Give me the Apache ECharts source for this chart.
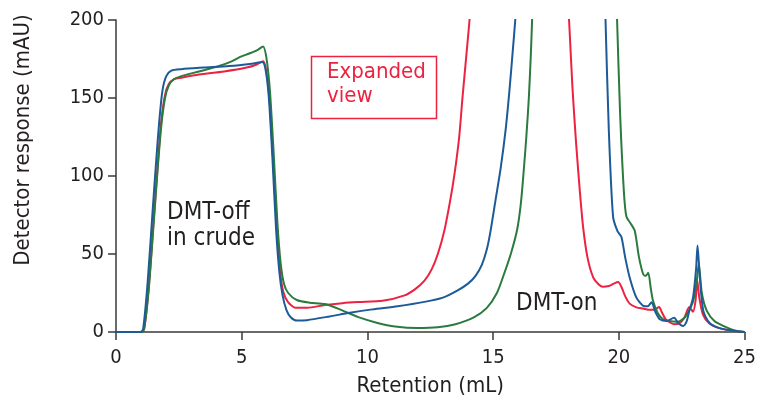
<!DOCTYPE html>
<html>
<head>
<meta charset="utf-8">
<script src="https://cdn.jsdelivr.net/npm/echarts@6/dist/echarts.min.js"></script>
<style>
html,body{margin:0;padding:0;background:#fff;}
#chart{width:759px;height:410px;}
</style>
</head>
<body>
<div id="chart"></div>
<script>
// ---- data (retention mL, response mAU) ----
const xTicks = [0, 5, 10, 15, 20, 25];
const yTicks = [0, 50, 100, 150, 200];

const runRed = [
[0,0],[1.0,0],[1.12,2],[1.3,28],[1.5,72],[1.65,105],[1.8,135],[1.95,152],[2.1,159],[2.3,162],[2.6,163],[3.3,165],[4.3,167],[5.2,169.5],[5.6,171.5],[5.85,173.5],[5.97,168],[6.1,150],[6.25,110],[6.4,68],[6.52,40],[6.65,26],[6.85,19],[7.15,15.5],[7.6,15.5],[8.3,17.3],[9.0,18.5],[9.64,19.2],[10.6,20],[11.48,23.5],[11.9,27.5],[12.27,33],[12.55,40],[12.8,50],[13.06,65],[13.3,85],[13.47,102],[13.65,125],[13.78,150],[13.95,180],[14.06,200],[14.2,235],[14.4,300],[17.7,300],[17.9,230],[18.02,200],[18.15,158],[18.3,121],[18.45,90],[18.58,67],[18.75,48],[18.98,35],[19.2,30.5],[19.37,29],[19.6,29.5],[19.8,31],[19.97,32],[20.1,29],[20.25,23],[20.43,18.2],[20.7,15.8],[20.96,15],[21.25,14.2],[21.45,14.5],[21.6,16],[21.7,13],[21.85,8.5],[22.0,6.4],[22.2,5],[22.4,5.5],[22.6,9],[22.8,16],[22.95,13],[23.05,20],[23.12,33],[23.2,22],[23.35,11],[23.6,5.5],[24.0,2.5],[24.5,0.8],[25,0]
];
const runBlue = [
[0,0],[0.98,0],[1.08,2],[1.25,30],[1.45,76],[1.6,110],[1.72,135],[1.85,155],[2.0,164],[2.2,167.5],[2.6,168.5],[3.5,169.5],[4.5,170.5],[5.4,172],[5.82,173],[5.95,168],[6.08,150],[6.22,112],[6.37,65],[6.5,38],[6.62,24],[6.78,14],[6.95,9.5],[7.2,7.3],[7.6,7.6],[8.5,10],[9.3,12.3],[10.2,14.5],[11.2,16.5],[12.27,19.3],[13.0,22],[13.59,26.7],[14.0,31],[14.3,36],[14.55,43],[14.75,53],[14.9,65],[15.1,85],[15.3,105],[15.5,130],[15.65,155],[15.78,180],[15.88,200],[16.0,230],[16.2,300],[19.3,300],[19.4,240],[19.47,200],[19.6,130],[19.77,74],[19.95,64.5],[20.1,61],[20.25,48],[20.43,35],[20.7,22],[20.97,16.8],[21.15,16.5],[21.3,19],[21.45,13],[21.63,8.2],[21.9,7],[22.2,9.2],[22.35,6],[22.56,3.9],[22.7,7],[22.8,13.5],[22.95,22],[23.07,40],[23.13,55.5],[23.22,35],[23.36,13.5],[23.6,6],[24.0,2.5],[24.7,0.5],[25,0]
];
const runGreen = [
[0,0],[1.02,0],[1.12,2],[1.3,27],[1.5,70],[1.65,103],[1.8,132],[1.95,150],[2.1,158],[2.3,162],[2.6,164],[3.3,167],[4.1,170.5],[4.6,173.5],[4.9,176],[5.3,178.5],[5.6,180.5],[5.85,183],[5.98,176],[6.12,155],[6.27,115],[6.42,70],[6.55,44],[6.68,31],[6.85,25],[7.19,20.5],[7.7,18.8],[8.3,17.9],[8.9,14.5],[9.64,9.5],[10.4,5.8],[11.1,3.5],[12.0,2.5],[12.8,3],[13.5,5],[14.25,9.6],[14.75,15.5],[15.15,25],[15.43,37],[15.72,51],[15.96,66],[16.1,82],[16.2,100],[16.32,125],[16.42,150],[16.5,178],[16.55,200],[16.65,240],[16.8,300],[19.75,300],[19.86,235],[19.93,200],[20.05,140],[20.2,90],[20.3,74],[20.45,70],[20.63,65],[20.8,48],[20.97,37],[21.07,36],[21.17,38],[21.27,28],[21.36,20],[21.55,12],[21.76,8.2],[22.0,7],[22.3,6.5],[22.6,9],[22.8,14],[22.96,20],[23.1,33],[23.18,43.7],[23.3,25],[23.5,13.5],[23.8,7],[24.15,3.9],[24.6,1],[25,0]
];

const FONT = "'Liberation Sans Narrow', 'DejaVu Sans Condensed', 'Arial Narrow', sans-serif";
const chart = echarts.init(document.getElementById('chart'), null, {renderer: 'canvas'});

function line(name, data, color) {
  return {
    name: name, type: 'line', data: data, showSymbol: false, smooth: 0.25,
    clip: true, lineStyle: {color: color, width: 2}, itemStyle: {color: color},
    emphasis: {disabled: true}, silent: true
  };
}

chart.setOption({
  animation: false,
  backgroundColor: '#ffffff',
  grid: {left: 116, right: 10, top: 20, bottom: 78, containLabel: false},
  xAxis: {
    type: 'value', min: xTicks[0], max: xTicks[xTicks.length - 1], interval: 5,
    name: 'Retention (mL)', nameLocation: 'middle', nameGap: 43,
    nameTextStyle: {fontFamily: FONT, fontSize: 22, color: '#231f20'},
    axisLine: {show: true, lineStyle: {color: '#3a3a3a', width: 1.5}},
    axisTick: {show: true, inside: false, length: 8, lineStyle: {color: '#3a3a3a', width: 1.5}},
    axisLabel: {fontFamily: FONT, fontSize: 20, color: '#231f20', margin: 16},
    splitLine: {show: false}
  },
  yAxis: {
    type: 'value', min: yTicks[0], max: yTicks[yTicks.length - 1], interval: 50,
    name: 'Detector response (mAU)', nameLocation: 'middle', nameGap: 82, nameRotate: 90,
    nameTextStyle: {fontFamily: FONT, fontSize: 22, color: '#231f20', padding: [0, 0, 0, 72]},
    axisLine: {show: true, lineStyle: {color: '#3a3a3a', width: 1.5}},
    axisTick: {show: true, inside: false, length: 8, lineStyle: {color: '#3a3a3a', width: 1.5}},
    axisLabel: {fontFamily: FONT, fontSize: 20, color: '#231f20', margin: 12},
    splitLine: {show: false}
  },
  series: [
    line('Run 1', runRed, '#ec2240'),
    line('Run 3', runGreen, '#2b7a3e'),
    line('Run 2', runBlue, '#1c5b98')
  ],
  graphic: [
    {type: 'text', left: 167, top: 200, style: {text: 'DMT-off\nin crude', font: '24px ' + FONT, fill: '#231f20', lineHeight: 26}},
    {type: 'text', left: 516, top: 292, style: {text: 'DMT-on', font: '24px ' + FONT, fill: '#231f20'}},
    {type: 'rect', shape: {x: 311.5, y: 56.5, width: 125, height: 62}, style: {fill: 'none', stroke: '#ec2240', lineWidth: 1.5}},
    {type: 'text', left: 327, top: 60, style: {text: 'Expanded\nview', font: '22px ' + FONT, fill: '#ec2240', lineHeight: 24}}
  ]
});
</script>
</body>
</html>
